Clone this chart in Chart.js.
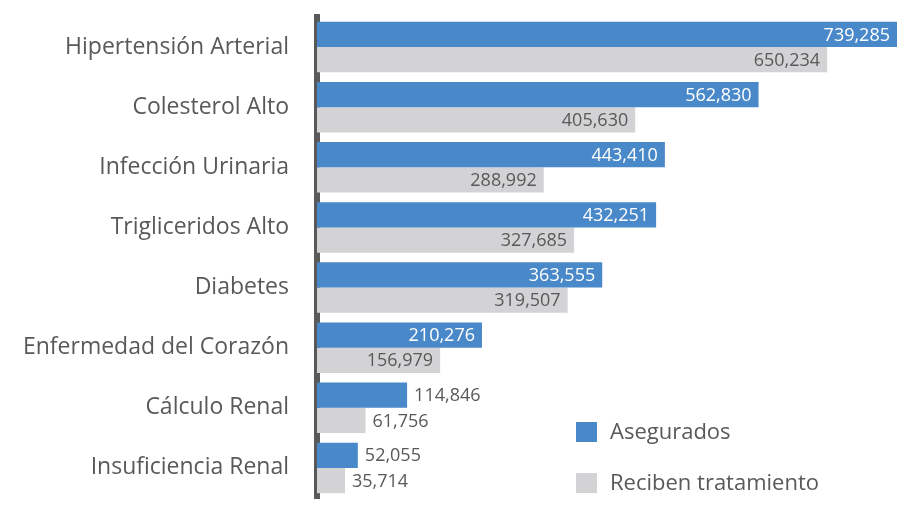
<!DOCTYPE html>
<html><head><meta charset="utf-8">
<script src="https://cdn.jsdelivr.net/npm/chart.js@4/dist/chart.umd.min.js"></script>
<style>html,body{margin:0;padding:0;background:#fff}#wrap{width:897px;height:505px}</style>
</head><body><div id="wrap"><canvas id="c" width="897" height="505"></canvas></div>
<script>
const categories = ["Hipertensión Arterial","Colesterol Alto","Infección Urinaria","Trigliceridos Alto","Diabetes","Enfermedad del Corazón","Cálculo Renal","Insuficiencia Renal"];
const asegurados = [739285,562830,443410,432251,363555,210276,114846,52055];
const tratamiento = [650234,405630,288992,327685,319507,156979,61756,35714];
const seriesNames = ["Asegurados","Reciben tratamiento"];
const colors = ["#4a89c9","#d3d3d5"];
const FONT = "'Open Sans', Lato, sans-serif";
const TXT = "#595959";

const labelPlugin = {
  id:'vals',
  afterDatasetsDraw(chart){
    const ctx = chart.ctx;
    ctx.save();
    ctx.font = "18px " + FONT;
    ctx.textBaseline = 'middle';
    chart.data.datasets.forEach((ds, di) => {
      const meta = chart.getDatasetMeta(di);
      meta.data.forEach((el, i) => {
        const {x, y, base} = el.getProps(['x','y','base'], true);
        const txt = ds.data[i].toLocaleString('en-US');
        const w = ctx.measureText(txt).width;
        const right = Math.min(x, chart.chartArea.right);
        if (right - base > w + 24) {
          ctx.textAlign = 'right';
          ctx.fillStyle = di === 0 ? '#ffffff' : TXT;
          ctx.fillText(txt, right - 7, y + 1);
        } else {
          ctx.textAlign = 'left';
          ctx.fillStyle = TXT;
          ctx.fillText(txt, x + 7, y + 1);
        }
      });
    });
    // legend
    ctx.font = "22px " + FONT;
    ctx.textAlign = 'left';
    const ly = [432, 483];
    seriesNames.forEach((n, k) => {
      ctx.fillStyle = colors[k];
      ctx.fillRect(576, ly[k] - 10, 21, 20);
      ctx.fillStyle = TXT;
      ctx.fillText(n, 610, ly[k] + 1);
    });
    ctx.restore();
  }
};

new Chart(document.getElementById('c'), {
  type: 'bar',
  data: {
    labels: categories,
    datasets: [
      {label: seriesNames[0], data: asegurados, backgroundColor: colors[0]},
      {label: seriesNames[1], data: tratamiento, backgroundColor: colors[1]}
    ]
  },
  options: {
    indexAxis: 'y',
    responsive: false,
    animation: false,
    layout: {padding: {top: 17, bottom: 7, left: 0, right: 0}},
    datasets: {bar: {categoryPercentage: 0.84, barPercentage: 1}},
    plugins: {legend: {display: false}, tooltip: {enabled: false}},
    scales: {
      x: {display: false, min: 0, max: 739285},
      y: {
        grid: {display: true, color: 'rgba(0,0,0,0)', drawTicks: false},
        border: {display: true, color: '#595959', width: 6},
        ticks: {color: TXT, font: {size: 23, family: FONT}, padding: 28},
        afterFit(s){ s.width = 317; s.paddingTop = 0; s.paddingBottom = 0; }
      }
    }
  },
  plugins: [labelPlugin]
});
</script></body></html>
